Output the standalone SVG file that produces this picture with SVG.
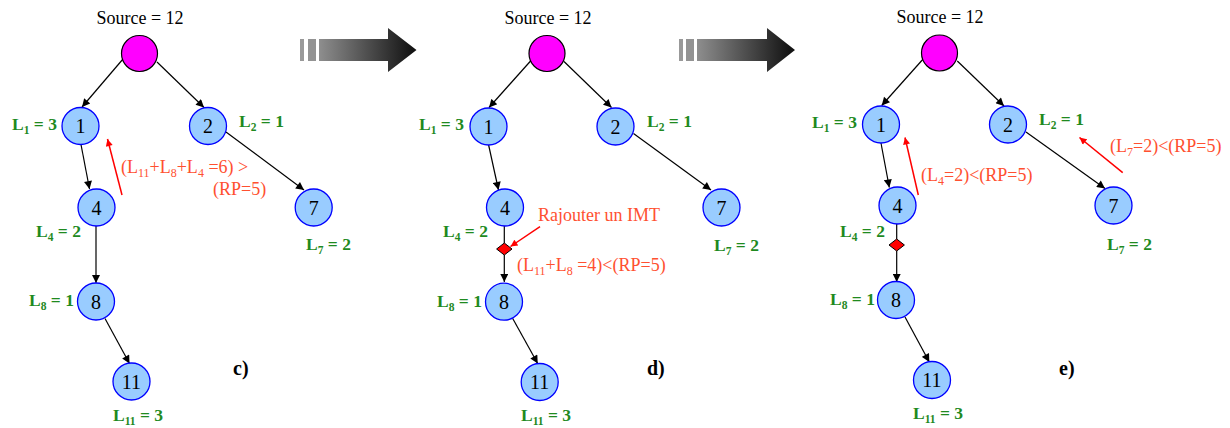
<svg xmlns="http://www.w3.org/2000/svg" width="1230" height="428" viewBox="0 0 1230 428">
<style>
.src{fill:#FF00FF;stroke:#000;stroke-width:1.2}
.nd{fill:#99CCFF;stroke:#0000FF;stroke-width:1.3}
.num{font-family:"Liberation Serif","Times New Roman",serif;font-size:20px;fill:#000;text-anchor:middle}
.ttl{font-family:"Liberation Serif","Times New Roman",serif;font-size:18px;fill:#000;text-anchor:middle}
.lab{font-family:"Liberation Serif","Times New Roman",serif;font-size:17.5px;font-weight:bold;fill:#1F8A1F}
.sub{font-size:11.5px}
.note{font-family:"Liberation Serif","Times New Roman",serif;font-size:18px;fill:#FF5030}
.nsub{font-size:12px}
.pan{font-family:"Liberation Serif","Times New Roman",serif;font-size:20px;font-weight:bold;fill:#000}
.e{stroke:#000;stroke-width:1.2;fill:none}
.ea{stroke:#000;stroke-width:1.2;fill:none;marker-end:url(#ah)}
.ra{stroke:#FF0000;stroke-width:1.5;fill:none;marker-end:url(#rh)}
.dia{fill:#FF0000;stroke:#000;stroke-width:1}
</style>
<defs>
<marker id="ah" viewBox="0 0 10 10" refX="10" refY="5" markerWidth="10" markerHeight="8" markerUnits="userSpaceOnUse" orient="auto">
<path d="M0,0 L10,5 L0,10 Z" fill="#000"/>
</marker>
<marker id="rh" viewBox="0 0 10 10" refX="10" refY="5" markerWidth="9" markerHeight="7" markerUnits="userSpaceOnUse" orient="auto">
<path d="M0,0 L10,5 L0,10 Z" fill="#FF0000"/>
</marker>
<linearGradient id="g1" gradientUnits="userSpaceOnUse" x1="319" y1="0" x2="412" y2="0">
<stop offset="0" stop-color="#8e8e8e"/><stop offset="1" stop-color="#141414"/>
</linearGradient>
<linearGradient id="g2" gradientUnits="userSpaceOnUse" x1="697" y1="0" x2="790" y2="0">
<stop offset="0" stop-color="#8e8e8e"/><stop offset="1" stop-color="#141414"/>
</linearGradient>
</defs>
<rect width="1230" height="428" fill="#fff"/>

<g id="bigarrow1">
<rect x="300" y="39" width="4" height="22" fill="#999"/>
<rect x="308" y="39" width="8" height="22" fill="#939393"/>
<path d="M319,39 L388,39 L388,28 L416.5,50 L388,72 L388,61 L319,61 Z" fill="url(#g1)"/>
</g>
<g id="bigarrow2">
<rect x="679" y="39" width="4" height="22" fill="#999"/>
<rect x="686" y="39" width="8" height="22" fill="#939393"/>
<path d="M697,39 L767,39 L767,28 L795,50 L767,72 L767,61 L697,61 Z" fill="url(#g2)"/>
</g>

<g id="connectors">
<!-- panel c -->
<line class="ea" x1="123" y1="59" x2="82" y2="107"/>
<line class="ea" x1="157" y1="62" x2="204" y2="107.5"/>
<line class="ea" x1="81" y1="144.5" x2="89.5" y2="189"/>
<line class="ea" x1="96" y1="226" x2="96" y2="283"/>
<line class="ea" x1="105" y1="318.5" x2="129.5" y2="363.5"/>
<line class="ea" x1="226" y1="132" x2="304" y2="190"/>
<line class="ra" x1="122" y1="195" x2="107.5" y2="139"/>
<!-- panel d -->
<line class="ea" x1="531" y1="60.5" x2="489" y2="107.5"/>
<line class="ea" x1="564" y1="61.5" x2="611.5" y2="107.5"/>
<line class="ea" x1="488.5" y1="144.5" x2="498.5" y2="190"/>
<line class="e" x1="504.3" y1="226" x2="504.3" y2="243"/>
<line class="ea" x1="504.3" y1="255" x2="504.3" y2="282"/>
<line class="ea" x1="512.7" y1="318.5" x2="537.7" y2="363.5"/>
<line class="ea" x1="633.5" y1="133.5" x2="711" y2="190"/>
<line class="ra" x1="540" y1="226.7" x2="510.5" y2="246.5"/>
<!-- panel e -->
<line class="ea" x1="922.7" y1="59.5" x2="881.7" y2="105.5"/>
<line class="ea" x1="957.3" y1="61" x2="1004" y2="106"/>
<line class="ea" x1="881" y1="143" x2="889.3" y2="187.5"/>
<line class="e" x1="896.7" y1="224" x2="896.7" y2="239"/>
<line class="ea" x1="896.7" y1="251" x2="896.7" y2="282"/>
<line class="ea" x1="905" y1="317" x2="929.3" y2="362"/>
<line class="ea" x1="1026" y1="132" x2="1105" y2="188.5"/>
<line class="ra" x1="918.3" y1="195" x2="905" y2="137.5"/>
<line class="ra" x1="1122.7" y1="172.7" x2="1079.5" y2="137.5"/>
</g>

<!-- ===== Panel c ===== -->
<g id="c_source"><text class="ttl" x="140" y="24">Source = 12</text><circle class="src" cx="139.5" cy="53.5" r="18"/></g>
<g id="c_n1"><circle class="nd" cx="80.5" cy="126" r="18.5"/><text class="num" x="80.5" y="133">1</text>
<text class="lab" x="12" y="129.5">L<tspan class="sub" dy="4">1</tspan><tspan dy="-4"> = 3</tspan></text></g>
<g id="c_n2"><circle class="nd" cx="208" cy="126" r="18.5"/><text class="num" x="208" y="133">2</text>
<text class="lab" x="239" y="127">L<tspan class="sub" dy="4">2</tspan><tspan dy="-4"> = 1</tspan></text></g>
<g id="c_n4"><circle class="nd" cx="96.5" cy="207.5" r="18.5"/><text class="num" x="96.5" y="214.5">4</text>
<text class="lab" x="36" y="237">L<tspan class="sub" dy="4">4</tspan><tspan dy="-4"> = 2</tspan></text></g>
<g id="c_n8"><circle class="nd" cx="96" cy="301.5" r="18.5"/><text class="num" x="96" y="308.5">8</text>
<text class="lab" x="29" y="306">L<tspan class="sub" dy="4">8</tspan><tspan dy="-4"> = 1</tspan></text></g>
<g id="c_n11"><circle class="nd" cx="131.5" cy="381.5" r="18.5"/><text class="num" x="131.5" y="388.5">11</text>
<text class="lab" x="113" y="421">L<tspan class="sub" dy="4">11</tspan><tspan dy="-4"> = 3</tspan></text></g>
<g id="c_n7"><circle class="nd" cx="313.7" cy="207.5" r="18.5"/><text class="num" x="313.7" y="214.5">7</text>
<text class="lab" x="306" y="250">L<tspan class="sub" dy="4">7</tspan><tspan dy="-4"> = 2</tspan></text></g>
<g id="c_note"><text class="note" x="121" y="173">(L<tspan class="nsub" dy="4">11</tspan><tspan dy="-4">+L</tspan><tspan class="nsub" dy="4">8</tspan><tspan dy="-4">+L</tspan><tspan class="nsub" dy="4">4</tspan><tspan dy="-4"> =6) &gt;</tspan></text>
<text class="note" x="213" y="195">(RP=5)</text></g>
<text class="pan" x="233" y="375">c)</text>

<!-- ===== Panel d ===== -->
<g id="d_source"><text class="ttl" x="548" y="24">Source = 12</text><circle class="src" cx="547" cy="53.5" r="18"/></g>
<g id="d_n1"><circle class="nd" cx="488.5" cy="126.5" r="18.5"/><text class="num" x="488.5" y="133.5">1</text>
<text class="lab" x="419" y="129.5">L<tspan class="sub" dy="4">1</tspan><tspan dy="-4"> = 3</tspan></text></g>
<g id="d_n2"><circle class="nd" cx="615.5" cy="126.5" r="18.5"/><text class="num" x="615.5" y="133.5">2</text>
<text class="lab" x="647" y="127">L<tspan class="sub" dy="4">2</tspan><tspan dy="-4"> = 1</tspan></text></g>
<g id="d_n4"><circle class="nd" cx="505" cy="207.5" r="18.5"/><text class="num" x="505" y="214.5">4</text>
<text class="lab" x="443" y="237">L<tspan class="sub" dy="4">4</tspan><tspan dy="-4"> = 2</tspan></text></g>
<g id="d_imt"><path class="dia" d="M504.3,243 L512,249 L504.3,255 L496.6,249 Z"/></g>
<g id="d_n8"><circle class="nd" cx="504" cy="301.7" r="18.5"/><text class="num" x="504" y="308.7">8</text>
<text class="lab" x="437" y="307">L<tspan class="sub" dy="4">8</tspan><tspan dy="-4"> = 1</tspan></text></g>
<g id="d_n11"><circle class="nd" cx="539.7" cy="382" r="18.5"/><text class="num" x="539.7" y="389">11</text>
<text class="lab" x="521" y="421">L<tspan class="sub" dy="4">11</tspan><tspan dy="-4"> = 3</tspan></text></g>
<g id="d_n7"><circle class="nd" cx="721.5" cy="207.5" r="18.5"/><text class="num" x="721.5" y="214.5">7</text>
<text class="lab" x="714" y="251">L<tspan class="sub" dy="4">7</tspan><tspan dy="-4"> = 2</tspan></text></g>
<g id="d_note"><text class="note" x="538" y="220.5">Rajouter un IMT</text>
<text class="note" x="517" y="271">(L<tspan class="nsub" dy="4">11</tspan><tspan dy="-4">+L</tspan><tspan class="nsub" dy="4">8</tspan><tspan dy="-4"> =4)&lt;(RP=5)</tspan></text></g>
<text class="pan" x="647" y="375">d)</text>

<!-- ===== Panel e ===== -->
<g id="e_source"><text class="ttl" x="940" y="22.5">Source = 12</text><circle class="src" cx="939.5" cy="53" r="18"/></g>
<g id="e_n1"><circle class="nd" cx="881" cy="124.5" r="18.5"/><text class="num" x="881" y="131.5">1</text>
<text class="lab" x="812" y="128">L<tspan class="sub" dy="4">1</tspan><tspan dy="-4"> = 3</tspan></text></g>
<g id="e_n2"><circle class="nd" cx="1008" cy="124.5" r="18.5"/><text class="num" x="1008" y="131.5">2</text>
<text class="lab" x="1039" y="125">L<tspan class="sub" dy="4">2</tspan><tspan dy="-4"> = 1</tspan></text></g>
<g id="e_n4"><circle class="nd" cx="897.5" cy="205.5" r="18.5"/><text class="num" x="897.5" y="212.5">4</text>
<text class="lab" x="840" y="237">L<tspan class="sub" dy="4">4</tspan><tspan dy="-4"> = 2</tspan></text></g>
<g id="e_imt"><path class="dia" d="M896.7,239 L904.4,245 L896.7,251 L889,245 Z"/></g>
<g id="e_n8"><circle class="nd" cx="896" cy="300" r="18.5"/><text class="num" x="896" y="307">8</text>
<text class="lab" x="830" y="305">L<tspan class="sub" dy="4">8</tspan><tspan dy="-4"> = 1</tspan></text></g>
<g id="e_n11"><circle class="nd" cx="932" cy="380" r="18.5"/><text class="num" x="932" y="387">11</text>
<text class="lab" x="913" y="419">L<tspan class="sub" dy="4">11</tspan><tspan dy="-4"> = 3</tspan></text></g>
<g id="e_n7"><circle class="nd" cx="1113.5" cy="205.5" r="18.5"/><text class="num" x="1113.5" y="212.5">7</text>
<text class="lab" x="1107" y="250">L<tspan class="sub" dy="4">7</tspan><tspan dy="-4"> = 2</tspan></text></g>
<g id="e_note"><text class="note" x="921" y="181">(L<tspan class="nsub" dy="4">4</tspan><tspan dy="-4">=2)&lt;(RP=5)</tspan></text>
<text class="note" x="1110" y="152">(L<tspan class="nsub" dy="4">7</tspan><tspan dy="-4">=2)&lt;(RP=5)</tspan></text></g>
<text class="pan" x="1059" y="375">e)</text>
</svg>
